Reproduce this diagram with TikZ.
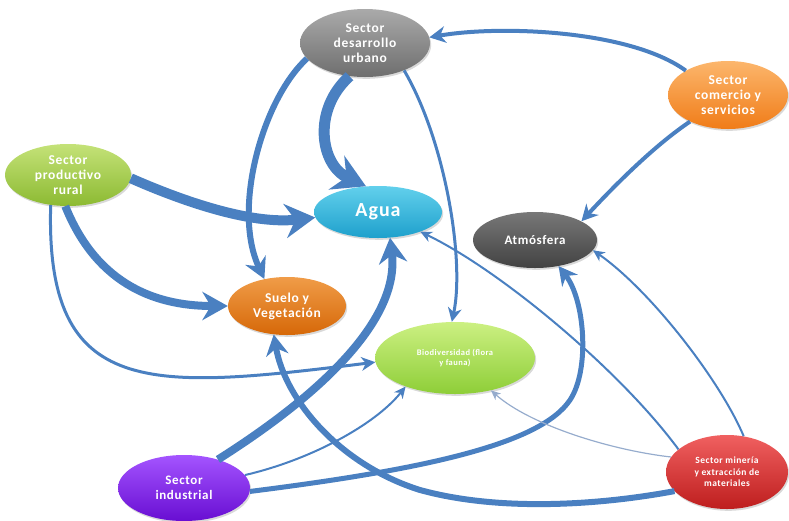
\documentclass[tikz,border=0pt]{standalone}
\usepackage{fontspec}
\setmainfont{Carlito}[LetterSpace=5]
\usetikzlibrary{arrows.meta,shapes.geometric,shadows}
\definecolor{linkblue}{RGB}{74,128,193}
\definecolor{linkpale}{RGB}{150,172,205}
\tikzset{
  bub/.style={ellipse, inner sep=0pt, align=center, text=white,
    drop shadow={shadow xshift=1.2pt, shadow yshift=-1.8pt, opacity=0.3}},
  conn/.style={draw=#1, -{Stealth[length=7pt 2.3, width=5pt 2.9, inset=2pt 0.8]}},
  conn/.default=linkblue,
  fA/.style={font=\fontsize{13.5}{14.8}\selectfont\bfseries},
  fB/.style={font=\fontsize{9.5}{11.5}\selectfont\bfseries},
  fC/.style={font=\fontsize{8.5}{10.5}\selectfont\bfseries},
}
\begin{document}
\begin{tikzpicture}[x=1pt,y=-1pt]
\useasboundingbox (0,0) rectangle (789,520);
% nodes
\node[bub, fA, minimum width=130pt, minimum height=68pt, top color={rgb,255:red,170;green,170;blue,170}, bottom color={rgb,255:red,110;green,110;blue,110}] (urb) at (365,43) {Sector\\desarrollo\\urbano};
\node[bub, fA, minimum width=120pt, minimum height=68pt, top color={rgb,255:red,252;green,182;blue,108}, bottom color={rgb,255:red,240;green,124;blue,24}] (com) at (728,95) {Sector\\comercio y\\servicios};
\node[bub, fA, minimum width=126pt, minimum height=62pt, top color={rgb,255:red,196;green,226;blue,120}, bottom color={rgb,255:red,140;green,186;blue,50}] (rur) at (68,175) {Sector\\productivo\\rural};
\node[bub, font=\fontsize{20}{22}\selectfont\bfseries, minimum width=128pt, minimum height=52pt, top color={rgb,255:red,98;green,208;blue,236}, bottom color={rgb,255:red,30;green,160;blue,204}] (agua) at (378,212) {Agua};
\node[bub, font=\fontsize{13}{15}\selectfont\bfseries, minimum width=124pt, minimum height=56pt, top color={rgb,255:red,120;green,120;blue,120}, bottom color={rgb,255:red,66;green,66;blue,66}] (atm) at (535,240) {Atmósfera};
\node[bub, fA, minimum width=118pt, minimum height=58pt, top color={rgb,255:red,240;green,156;blue,72}, bottom color={rgb,255:red,214;green,104;blue,8}] (suelo) at (287,306) {Suelo y\\Vegetación};
\node[bub, fC, minimum width=160pt, minimum height=72pt, top color={rgb,255:red,204;green,240;blue,130}, bottom color={rgb,255:red,142;green,206;blue,56}] (bio) at (455,358) {Biodiversidad (flora\\y fauna)};
\node[bub, font=\fontsize{13}{15}\selectfont\bfseries, minimum width=132pt, minimum height=66pt, top color={rgb,255:red,164;green,84;blue,255}, bottom color={rgb,255:red,104;green,14;blue,210}] (ind) at (184,488) {Sector\\industrial};
\node[bub, fB, minimum width=122pt, minimum height=74pt, top color={rgb,255:red,240;green,96;blue,96}, bottom color={rgb,255:red,190;green,30;blue,30}] (min) at (727,472) {Sector minería\\y extracción de\\materiales};
% connectors
\draw[conn, line width=4pt] (com.150) .. controls (630,30) and (500,25) .. (urb.5);
\draw[conn, line width=4pt] (com.215) .. controls (655,145) and (615,185) .. (atm.22);
\draw[conn, line width=11pt] (urb.245) .. controls (312,110) and (320,165) .. (agua.115);
\draw[conn, line width=6pt] (urb.195) .. controls (262,100) and (232,210) .. (suelo.130);
\draw[conn, line width=3pt] (urb.325) .. controls (445,140) and (465,260) .. (bio.95);
\draw[conn, line width=10pt] (rur.357) .. controls (180,200) and (250,225) .. (agua.185);
\draw[conn, line width=8pt] (rur.265) .. controls (95,280) and (150,306) .. (suelo.180);
\draw[conn, line width=3pt] (rur.240) .. controls (45,400) and (150,390) .. (bio.183);
\draw[conn, line width=8pt] (ind.40) .. controls (320,395) and (400,320) .. (agua.295);
\draw[conn, line width=2pt] (ind.12) .. controls (310,460) and (375,425) .. (bio.210);
\coordinate (k1) at (570,400);
\draw[conn, line width=5pt] (ind.357) .. controls (420,470) and (540,445) .. (k1) .. controls (590,370) and (585,300) .. (atm.312);
\coordinate (k2) at (420,490);
\draw[conn, line width=6pt] (min.200) .. controls (600,505) and (500,512) .. (k2) .. controls (340,465) and (285,400) .. (suelo.245);
\draw[conn, line width=2pt] (min.155) .. controls (620,370) and (500,270) .. (agua.335);
\draw[conn, line width=2pt] (min.65) .. controls (720,380) and (650,290) .. (atm.350);
\draw[conn=linkpale, line width=1.2pt] (min.165) .. controls (610,450) and (530,425) .. (bio.318);
\end{tikzpicture}
\end{document}
